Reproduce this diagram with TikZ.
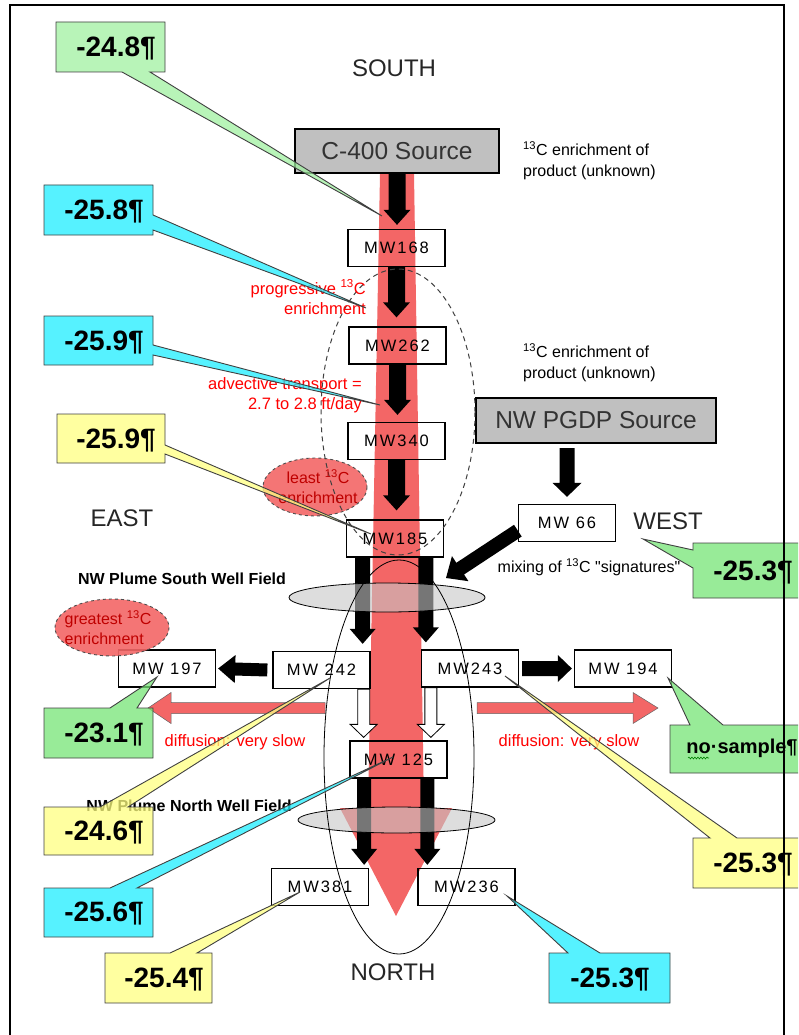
\documentclass[tikz,border=0pt]{standalone}
\usepackage{fontspec}
\setmainfont{Liberation Sans}
\newfontfamily\wellfont[LetterSpace=12]{Liberation Sans}
\usetikzlibrary{calc,decorations.pathmorphing}
\pgfdeclarelayer{fills}
\pgfdeclarelayer{plume}
\pgfsetlayers{fills,plume,main}

\definecolor{plumered}{RGB}{243,102,102}
\definecolor{srcgray}{RGB}{192,192,192}
\definecolor{cgreen}{RGB}{160,240,160}
\definecolor{cgreendk}{RGB}{118,228,118}
\definecolor{ccyan}{RGB}{30,238,255}
\definecolor{cyellow}{RGB}{255,255,128}

% block arrow: #1 style, #2 tail, #3 tip, #4 half shaft, #5 half head, #6 head length
\newcommand\blockarrow[6]{%
  \coordinate (ba-s) at #2;
  \coordinate (ba-e) at #3;
  \coordinate (ba-h) at ($(ba-e)!#6!(ba-s)$);
  \path[#1] ($(ba-s)!#4!90:(ba-e)$) -- ($(ba-h)!#4!90:(ba-e)$) -- ($(ba-h)!#5!90:(ba-e)$)
    -- (ba-e) -- ($(ba-h)!#5!-90:(ba-e)$) -- ($(ba-h)!#4!-90:(ba-e)$) -- ($(ba-s)!#4!-90:(ba-e)$) -- cycle;
}

\tikzset{
  well/.style={draw, line width=1.3pt, minimum width=97pt, minimum height=37pt, inner sep=0pt,
    font=\wellfont\fontsize{16.5}{18}\selectfont},
  source/.style={draw, line width=2.2pt, fill=srcgray, inner sep=0pt, text=black!80,
    font=\fontsize{24.5}{26}\selectfont},
  compass/.style={inner sep=0pt, text=black!85, font=\fontsize{24}{26}\selectfont},
  note/.style={inner sep=0pt, font=\fontsize{16}{21}\selectfont},
  rednote/.style={inner sep=0pt, text=red, font=\fontsize{16.5}{20}\selectfont},
  field/.style={inner sep=0pt, font=\bfseries\fontsize{16}{18}\selectfont},
  val/.style={inner sep=0pt, font=\bfseries\fontsize{28}{30}\selectfont},
  callout/.style={draw=black!75, line width=0.9pt, fill opacity=0.75},
  blk/.style={fill=black},
  hollow/.style={fill=white, draw=black, line width=0.8pt},
  redarr/.style={fill=plumered, draw=black!60, line width=0.5pt},
  hot/.style={fill=plumered, fill opacity=0.9, draw=black!70, dashed, line width=0.9pt},
  hottext/.style={inner sep=0pt, text=red!75!black, font=\fontsize{16}{20}\selectfont},
}

\begin{document}
\begin{tikzpicture}[x=1pt, y=-1pt, line join=miter]
\useasboundingbox (0,0) rectangle (798,1035);
\clip (0,0) rectangle (798,1035);

% compass words
\node[compass] (lblsouth) at (394,68) {SOUTH};
\node[compass] (lblnorth) at (393,972) {NORTH};
\node[compass] (lbleast) at (122,518) {EAST};
\node[compass] (lblwest) at (668,521) {WEST};

% sources
\node[source, minimum width=204pt, minimum height=44pt] (c400) at (397,151) {C-400 Source};
\node[source, minimum width=240pt, minimum height=45pt] (pgdp) at (596,420.5) {NW PGDP Source};

% monitoring wells
\node[well] (mw168) at (396.5,248) {MW168};
\node[well] (mw262) at (397.5,345.5) {MW262};
\node[well] (mw340) at (396.5,441) {MW340};
\node[well] (mw185) at (395,538.5) {MW185};
\node[well] (mw66) at (567,523) {MW 66};
\node[well] (mw242) at (321.5,670) {MW 242};
\node[well] (mw243) at (470,668.5) {MW243};
\node[well] (mw197) at (167,668.5) {MW 197};
\node[well] (mw194) at (623,668.5) {MW 194};
\node[well] (mw125) at (398.5,759.5) {MW 125};
\node[well] (mw381) at (320,887) {MW381};
\node[well] (mw236) at (466.5,887) {MW236};

\begin{pgfonlayer}{fills}
  \foreach \b in {mw168,mw262,mw340,mw185,mw66,mw242,mw243,mw197,mw194,mw125,mw381,mw236}
    \fill[white] (\b.south west) rectangle (\b.north east);
\end{pgfonlayer}

\begin{pgfonlayer}{plume}
  % main plume
  \fill[plumered] (380,174) -- (414,174) -- (424,808) -- (452,808) -- (396,916)
    -- (340,808) -- (368,808) -- cycle;
  % diffusion arrows
  \coordinate (dl-s) at (325,708);
  \coordinate (dl-e) at (148,708);
  \coordinate (dr-s) at (477,708);
  \coordinate (dr-e) at (658,708);
  \blockarrow{redarr}{(dl-s)}{(dl-e)}{5.5pt}{15.5pt}{23pt}
  \blockarrow{redarr}{(dr-s)}{(dr-e)}{5.5pt}{15.5pt}{25pt}

  % flow along the plume
  \blockarrow{blk}{(c400.south)}{([yshift=4pt]c400.south |- mw168.north)}{8.5pt}{13.5pt}{15pt}
  \blockarrow{blk}{(mw168.south)}{([yshift=9pt]mw168.south |- mw262.north)}{8.5pt}{13.5pt}{15pt}
  \blockarrow{blk}{(mw262.south)}{([yshift=7pt]mw262.south |- mw340.north)}{8.5pt}{13.5pt}{15pt}
  \blockarrow{blk}{(mw340.south)}{([yshift=9pt]mw340.south |- mw185.north)}{8.5pt}{13.5pt}{15pt}

  \coordinate (sl) at ($(mw242.north east)+(-8,0)$);
  \coordinate (sr) at ($(mw243.north west)+(5,0)$);
  \blockarrow{blk}{(sl |- mw185.south)}{([yshift=7pt]sl)}{7.5pt}{13pt}{15pt}
  \blockarrow{blk}{(sr |- mw185.south)}{([yshift=7pt]sr)}{7.5pt}{13pt}{15pt}

  \coordinate (nl) at ($(mw381.north east)+(-5,0)$);
  \coordinate (nr) at ($(mw236.north west)+(10,0)$);
  \blockarrow{blk}{(nl |- mw125.south)}{([yshift=3pt]nl)}{7pt}{13pt}{16pt}
  \blockarrow{blk}{(nr |- mw125.south)}{([yshift=3pt]nr)}{7pt}{13pt}{16pt}

  \coordinate (hl) at ($(mw242.south east)+(-7,0)$);
  \coordinate (hr) at ($(mw243.south west)+(10,0)$);
  \blockarrow{hollow}{(hl)}{([yshift=3pt]hl |- mw125.north)}{6pt}{13.5pt}{13pt}
  \blockarrow{hollow}{(hr)}{([yshift=3pt]hr |- mw125.north)}{6pt}{13.5pt}{13pt}

  % NW PGDP branch
  \blockarrow{blk}{([yshift=-4pt]mw66.north |- pgdp.south)}{([yshift=7pt]mw66.north)}{7.5pt}{14.5pt}{14pt}
  \coordinate (mixtip) at (446,578);
  \blockarrow{blk}{($(mw66.west)!0.4!(mw66.south west)$)}{(mixtip)}{7pt}{15pt}{17pt}

  % lateral spread
  \blockarrow{blk}{([xshift=-5pt]mw242.west)}{([xshift=2pt]mw197.east)}{6.5pt}{14pt}{17pt}
  \blockarrow{blk}{([xshift=3pt]mw243.east)}{([xshift=-2pt]mw194.west)}{7.5pt}{13.5pt}{14pt}
\end{pgfonlayer}

% well fields and zones
\draw[fill=gray!45, fill opacity=0.6, line width=0.8pt] (387,597.5) ellipse [x radius=98, y radius=14.5];
\draw[fill=gray!45, fill opacity=0.6, line width=0.8pt] (396.5,820) ellipse [x radius=98.5, y radius=13];
\draw[line width=0.8pt] (399,757) ellipse [x radius=75, y radius=197];

\draw[hot] (315,487) ellipse [x radius=52, y radius=29];
\draw[hot] (112,627.5) ellipse [x radius=57, y radius=28.5];
\draw[black!75, line width=1pt, dash pattern=on 5pt off 4pt] (398,412) ellipse [x radius=77, y radius=143];

\node[hottext, align=center] (least) at (318,487) {least \textsuperscript{13}C\\enrichment};
\node[hottext, align=left] (greatest) at (108,628) {greatest \textsuperscript{13}C\\enrichment};

% notes
\node[note, anchor=west, align=left] (note1) at (523,161) {\textsuperscript{13}C enrichment of\\product (unknown)};
\node[note, anchor=west, align=left] (note2) at (523,363) {\textsuperscript{13}C enrichment of\\product (unknown)};
\node[note] (mixnote) at (589,567) {mixing of \textsuperscript{13}C \textquotedbl signatures\textquotedbl};

\node[rednote, anchor=east, align=right] (prog) at (366,297) {progressive \textsuperscript{13}C\\enrichment};
\node[rednote, anchor=east, align=right] (advect) at (362,395) {advective transport =\\2.7 to 2.8 ft/day};
\node[rednote] (diffl) at (235,742) {diffusion: very slow};
\node[rednote] (diffr) at (569,742) {diffusion: very slow};

\node[field] (southfield) at (182,579) {NW Plume South Well Field};
\node[field] (northfield) at (189,806) {NW Plume North Well Field};

% isotope value callouts
\coordinate (t1) at (382,216);
\coordinate (t2) at (366,308);
\coordinate (t3) at (380,405);
\coordinate (t4) at (371,534);
\coordinate (t5) at (643,539);
\coordinate (t6) at (157,677);
\coordinate (t7) at (668,678);
\coordinate (t8) at (330,678);
\coordinate (t9) at (393,757);
\coordinate (t10) at (300,892);
\coordinate (t11) at (505,676);
\coordinate (t12) at (507,896);

\path[callout, fill=cgreen] (56,22) -- (165,22) -- (165,72) -- (150,72) -- (t1) -- (122,72) -- (56,72) -- cycle;
\node[val] (v1) at (116,49) {-24.8¶};

\path[callout, fill=ccyan] (44,185) -- (153,185) -- (153,215) -- (t2) -- (153,230) -- (153,235) -- (44,235) -- cycle;
\node[val] (v2) at (104,212) {-25.8¶};

\path[callout, fill=ccyan] (44,316) -- (153,316) -- (153,345) -- (t3) -- (153,355) -- (153,365) -- (44,365) -- cycle;
\node[val] (v3) at (104,343) {-25.9¶};

\path[callout, fill=cyellow] (57,414) -- (165,414) -- (165,445) -- (t4) -- (165,454) -- (165,463) -- (57,463) -- cycle;
\node[val] (v4) at (116,441) {-25.9¶};

\path[callout, fill=cgreendk] (693,543) -- (815,543) -- (815,598) -- (693,598) -- (693,568) -- (t5) -- (693,550) -- cycle;
\node[val] (v5) at (753,573) {-25.3¶};

\path[callout, fill=cgreendk] (44,708) -- (110,708) -- (t6) -- (137,708) -- (153,708) -- (153,758) -- (44,758) -- cycle;
\node[val] (v6) at (104,735) {-23.1¶};

\path[callout, fill=cgreendk] (670,725) -- (690,725) -- (t7) -- (723,725) -- (815,725) -- (815,773) -- (670,773) -- cycle;
\node[inner sep=0pt, font=\bfseries\fontsize{20}{22}\selectfont] (v7) at (742,748) {no·sample¶};
\draw[green!50!black, line width=0.6pt, decorate, decoration={snake, amplitude=0.9pt, segment length=3pt}] (688,758) -- (709,758);

\path[callout, fill=cyellow] (44,807) -- (100,807) -- (t8) -- (128,807) -- (153,807) -- (153,855) -- (44,855) -- cycle;
\node[val] (v8) at (104,833) {-24.6¶};

\path[callout, fill=ccyan] (44,888) -- (110,888) -- (t9) -- (137,888) -- (153,888) -- (153,937) -- (44,937) -- cycle;
\node[val] (v9) at (104,914) {-25.6¶};

\path[callout, fill=cyellow] (105,953) -- (170,953) -- (t10) -- (197,953) -- (212,953) -- (212,1003) -- (105,1003) -- cycle;
\node[val] (v10) at (164,980) {-25.4¶};

\path[callout, fill=cyellow] (693,838) -- (710,838) -- (t11) -- (737,838) -- (815,838) -- (815,888) -- (693,888) -- cycle;
\node[val] (v11) at (753,865) {-25.3¶};

\path[callout, fill=ccyan] (549,953) -- (568,953) -- (t12) -- (600,953) -- (670,953) -- (670,1003) -- (549,1003) -- cycle;
\node[val] (v12) at (610,980) {-25.3¶};

% page frame
\draw[line width=2pt] (10,1040) -- (10,5) -- (784,5) -- (784,1040);
\end{tikzpicture}
\end{document}
